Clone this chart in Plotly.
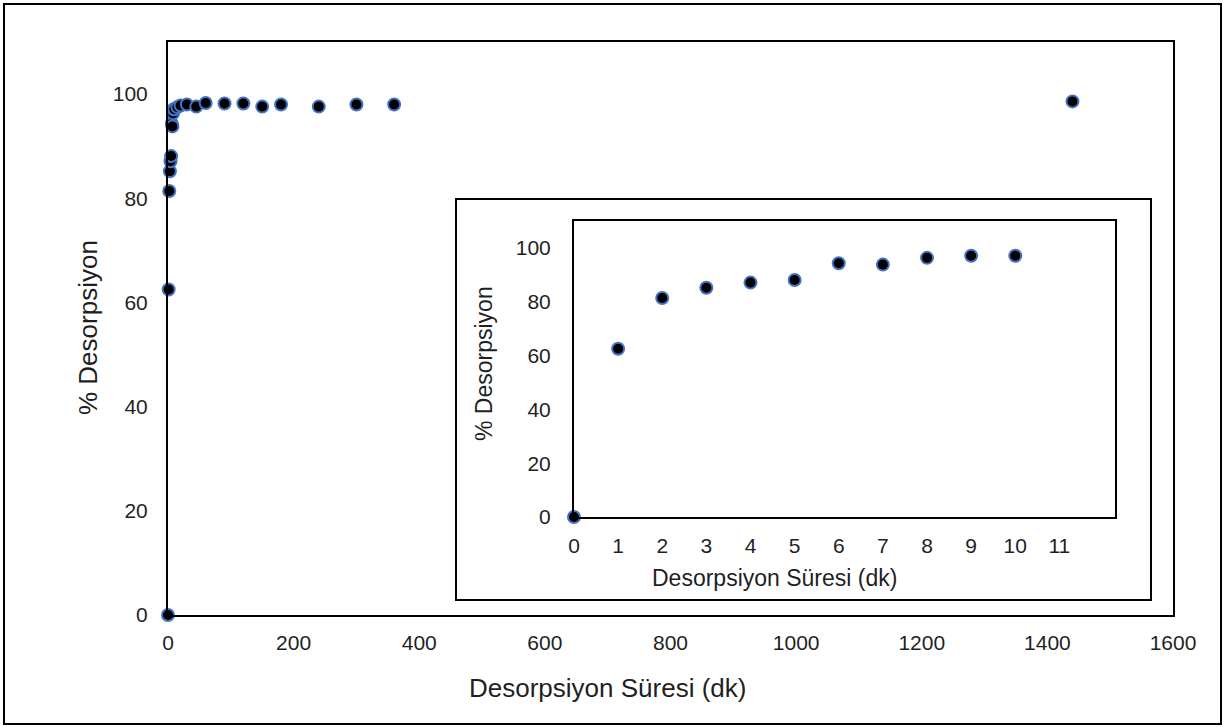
import plotly.graph_objects as go

# Main chart data (time in min, % desorption)
time_main = [0, 1, 2, 3, 4, 5, 6, 7, 8, 9, 10, 15, 20, 30, 45, 60, 90, 120, 150, 180, 240, 300, 360, 1440]
desorp_main = [0, 62.5, 81.4, 85.2, 87.1, 88.1, 94.3, 93.8, 96.3, 97.1, 97.1, 97.5, 97.8, 98.0, 97.6, 98.3, 98.2, 98.2, 97.6, 98.0, 97.6, 98.0, 98.0, 98.6]

# Inset data (first 10 minutes)
time_inset = [0, 1, 2, 3, 4, 5, 6, 7, 8, 9, 10]
desorp_inset = [0, 62.5, 81.4, 85.2, 87.1, 88.1, 94.3, 93.8, 96.3, 97.1, 97.1]

main_xticks = [0, 200, 400, 600, 800, 1000, 1200, 1400, 1600]
yticks = [0, 20, 40, 60, 80, 100]
inset_xticks = list(range(0, 12))

W, H = 1231, 727
L, R, T, B = 168, 1173, 42, 615
pw, ph = R - L, B - T

def px(x):
    return (x - L) / pw

def py(y):
    return (B - y) / ph

FONT = "Liberation Sans, Arial, sans-serif"
TXT = "#1f1f1f"
marker = dict(color="black", size=12, line=dict(color="#4472C4", width=2))

fig = go.Figure()
fig.add_trace(go.Scatter(x=time_main, y=desorp_main, mode="markers", marker=marker,
                         xaxis="x", yaxis="y", showlegend=False, cliponaxis=False))
fig.add_trace(go.Scatter(x=time_inset, y=desorp_inset, mode="markers", marker=marker,
                         xaxis="x2", yaxis="y2", showlegend=False, cliponaxis=False))

axis_common = dict(showline=True, linecolor="black", linewidth=2, mirror=True,
                   showgrid=False, zeroline=False, ticks="",
                   tickfont=dict(family=FONT, size=21, color=TXT))

fig.update_layout(
    width=W, height=H,
    margin=dict(l=L, r=W - R, t=T, b=H - B),
    paper_bgcolor="white", plot_bgcolor="white",
    font=dict(family=FONT, color=TXT),
    xaxis=dict(range=[0, 1600], tickvals=main_xticks, domain=[0, 1], anchor="y",
               ticklabelstandoff=8, **axis_common),
    yaxis=dict(range=[0, 110], tickvals=yticks, domain=[0, 1], anchor="x",
               ticklabelstandoff=14, **axis_common),
    xaxis2=dict(range=[0, 12.26], tickvals=inset_xticks, domain=[px(574), px(1115)], anchor="y2",
                ticklabelstandoff=9, **axis_common),
    yaxis2=dict(range=[0, 110], tickvals=yticks, domain=[py(517), py(221)], anchor="x2",
                ticklabelstandoff=17, **axis_common),
)

# outer chart border
fig.add_shape(type="rect", xref="paper", yref="paper",
              x0=px(4), x1=px(1221), y0=py(724), y1=py(4),
              line=dict(color="black", width=2), fillcolor="rgba(0,0,0,0)", layer="below")
# inset frame
fig.add_shape(type="rect", xref="paper", yref="paper",
              x0=px(456), x1=px(1151), y0=py(600), y1=py(199),
              line=dict(color="black", width=2), fillcolor="white", layer="below")

main_title_font = dict(family=FONT, size=26, color=TXT)
inset_title_font = dict(family=FONT, size=23, color=TXT)
fig.add_annotation(text="Desorpsiyon Süresi (dk)", xref="paper", yref="paper",
                   x=px(607), y=py(688), showarrow=False, font=main_title_font,
                   xanchor="center", yanchor="middle")
fig.add_annotation(text="% Desorpsiyon", xref="paper", yref="paper",
                   x=px(88), y=py(328), showarrow=False, font=main_title_font, textangle=-90,
                   xanchor="center", yanchor="middle")
fig.add_annotation(text="Desorpsiyon Süresi (dk)", xref="paper", yref="paper",
                   x=px(774), y=py(578), showarrow=False, font=inset_title_font,
                   xanchor="center", yanchor="middle")
fig.add_annotation(text="% Desorpsiyon", xref="paper", yref="paper",
                   x=px(484), y=py(364), showarrow=False, font=inset_title_font, textangle=-90,
                   xanchor="center", yanchor="middle")

fig.write_html("out.html", config={"displayModeBar": False},
               post_script="document.body.style.margin='0px';")
